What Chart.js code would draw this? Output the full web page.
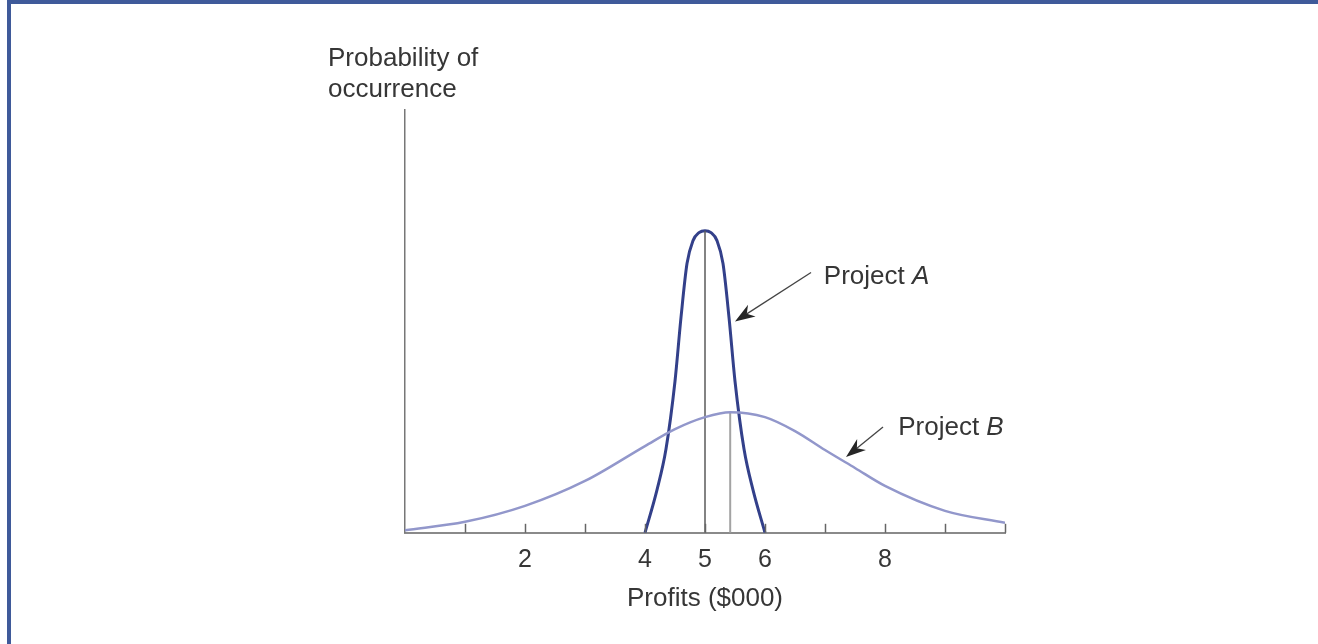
<!DOCTYPE html>
<html>
<head>
<meta charset="utf-8">
<script src="https://cdn.jsdelivr.net/npm/chart.js@4.4.1/dist/chart.umd.min.js"></script>
<style>
  body { margin: 0; background: #fff; }
  #wrap { position: relative; width: 1318px; height: 644px; overflow: hidden; }
  #frameTop { position: absolute; left: 7px; top: 0; width: 1311px; height: 4px; background: #3f5a9a; }
  #frameLeft { position: absolute; left: 7px; top: 0; width: 4px; height: 644px; background: #3f5a9a; }
  canvas { position: absolute; left: 0; top: 0; }
</style>
</head>
<body>
<div id="wrap">
  <canvas id="riskChart" width="1318" height="644"></canvas>
  <div id="frameTop"></div>
  <div id="frameLeft"></div>
</div>
<script>
// profits in $000, probability heights
const projectAX = [4, 4.2, 4.35, 4.5, 4.6, 4.7, 4.8, 4.9, 5, 5.1, 5.2, 5.3, 5.4, 5.5, 5.65, 5.8, 6];
const projectAY = [0, 0.043, 0.084, 0.152, 0.216, 0.270, 0.293, 0.301, 0.303, 0.301, 0.293, 0.270, 0.216, 0.152, 0.084, 0.043, 0];
const projectBX = [0, 1, 2, 3, 4, 4.5, 5, 5.42, 6, 6.5, 7, 7.5, 8, 9, 10];
const projectBY = [0.0025, 0.011, 0.027, 0.052, 0.087, 0.104, 0.116, 0.121, 0.116, 0.102, 0.083, 0.065, 0.047, 0.022, 0.010];
const meanA = 5;
const meanB = 5.42;
const labeledTicks = [2, 4, 5, 6, 8];

const FONT = "'Liberation Sans', Arial, Helvetica, sans-serif";
const TEXT = '#363636';

const pts = (xs, ys) => xs.map((x, i) => ({ x: x, y: ys[i] }));
const peakOf = (xs, ys, m) => ys[xs.indexOf(m)];

function arrow(ctx, x1, y1, x2, y2) {
  const a = Math.atan2(y2 - y1, x2 - x1);
  const len = 20, w = 7;
  const cx = Math.cos(a), sy = Math.sin(a);
  ctx.strokeStyle = '#444';
  ctx.fillStyle = '#262626';
  ctx.lineWidth = 1.3;
  ctx.beginPath();
  ctx.moveTo(x1, y1);
  ctx.lineTo(x2 - cx * len * 0.7, y2 - sy * len * 0.7);
  ctx.stroke();
  ctx.beginPath();
  ctx.moveTo(x2, y2);
  ctx.lineTo(x2 - cx * len + sy * w, y2 - sy * len - cx * w);
  ctx.lineTo(x2 - cx * len * 0.7, y2 - sy * len * 0.7);
  ctx.lineTo(x2 - cx * len - sy * w, y2 - sy * len + cx * w);
  ctx.closePath();
  ctx.fill();
}

function label(ctx, x, y, plain, italic) {
  ctx.fillStyle = TEXT;
  ctx.textBaseline = 'alphabetic';
  ctx.textAlign = 'left';
  ctx.font = '26px ' + FONT;
  ctx.fillText(plain, x, y);
  if (italic) {
    const w = ctx.measureText(plain).width;
    ctx.font = 'italic 26px ' + FONT;
    ctx.fillText(italic, x + w, y);
  }
}

const annotations = {
  id: 'annotations',
  afterDatasetsDraw(chart) {
    const { ctx, scales: { x, y } } = chart;
    ctx.save();
    // inward tick marks
    ctx.strokeStyle = '#666';
    ctx.lineWidth = 1.5;
    x.ticks.forEach(t => {
      if (t.value <= 0) return;
      const px = Math.round(x.getPixelForValue(t.value)) + 0.5;
      ctx.beginPath();
      ctx.moveTo(px, y.bottom);
      ctx.lineTo(px, y.bottom - 9);
      ctx.stroke();
    });
    // axis caption
    label(ctx, x.getPixelForValue(-1.283), y.getPixelForValue(0.468), 'Probability of');
    label(ctx, x.getPixelForValue(-1.283), y.getPixelForValue(0.437), 'occurrence');
    // project tags
    label(ctx, x.getPixelForValue(6.98), y.getPixelForValue(0.250), 'Project ', 'A');
    arrow(ctx, x.getPixelForValue(6.767), y.getPixelForValue(0.261), x.getPixelForValue(5.5), y.getPixelForValue(0.212));
    label(ctx, x.getPixelForValue(8.22), y.getPixelForValue(0.098), 'Project ', 'B');
    arrow(ctx, x.getPixelForValue(7.967), y.getPixelForValue(0.106), x.getPixelForValue(7.35), y.getPixelForValue(0.076));
    ctx.restore();
  }
};

new Chart(document.getElementById('riskChart'), {
  type: 'line',
  data: {
    datasets: [
      {
        label: 'Project B',
        data: pts(projectBX, projectBY),
        borderColor: '#9297cb',
        borderWidth: 2.5,
        cubicInterpolationMode: 'monotone'
      },
      {
        label: 'Mean B',
        data: [{ x: meanB, y: 0 }, { x: meanB, y: peakOf(projectBX, projectBY, meanB) }],
        borderColor: '#a3a3a3',
        borderWidth: 2
      },
      {
        label: 'Mean A',
        data: [{ x: meanA, y: 0 }, { x: meanA, y: peakOf(projectAX, projectAY, meanA) }],
        borderColor: '#5a5a5a',
        borderWidth: 1.5
      },
      {
        label: 'Project A',
        data: pts(projectAX, projectAY),
        borderColor: '#33408a',
        borderWidth: 3,
        cubicInterpolationMode: 'monotone'
      }
    ]
  },
  options: {
    responsive: false,
    animation: false,
    layout: { padding: { left: 405, right: 313, top: 110, bottom: 20 } },
    elements: { point: { radius: 0 } },
    plugins: { legend: { display: false }, tooltip: { enabled: false } },
    scales: {
      x: {
        type: 'linear',
        min: 0,
        max: 10,
        ticks: {
          stepSize: 1,
          padding: 12,
          color: TEXT,
          font: { family: FONT, size: 25 },
          callback: v => labeledTicks.includes(v) ? String(v) : ''
        },
        grid: { drawOnChartArea: false, drawTicks: false, color: 'rgba(0,0,0,0)' },
        border: { display: true, color: '#8a8a8a', width: 2 },
        title: {
          display: true,
          text: 'Profits ($000)',
          color: TEXT,
          font: { family: FONT, size: 26 },
          padding: { top: -4, bottom: 10 }
        }
      },
      y: {
        min: 0,
        max: 0.424,
        ticks: { display: false },
        grid: { drawOnChartArea: false, drawTicks: false, color: 'rgba(0,0,0,0)' },
        border: { display: true, color: '#777', width: 1.5 }
      }
    }
  },
  plugins: [annotations]
});
</script>
</body>
</html>
